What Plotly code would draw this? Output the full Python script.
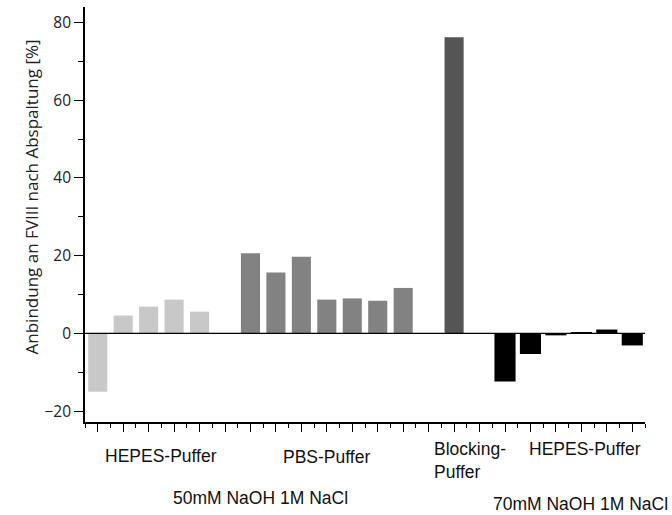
import plotly.graph_objects as go

# Binding to FVIII after cleavage [%], per buffer group
hepes_50 = [-15.0, 4.6, 6.9, 8.7, 5.6]
pbs_50 = [20.6, 15.7, 19.7, 8.7, 9.0, 8.4, 11.7]
blocking = [76.2]
hepes_70 = [-12.4, -5.3, -0.5, 0.3, 1.0, -3.1]

group_labels = ["HEPES-Puffer", "PBS-Puffer", "Blocking-<br>Puffer", "HEPES-Puffer"]
condition_labels = ["50mM NaOH 1M NaCl", "70mM NaOH 1M NaCl"]
y_title = "Anbindung an FVIII nach Abspaltung [%]"

# first slot of each group on the shared x axis (one empty slot between groups)
group_start = [0, 6, 14, 16]
groups = [hepes_50, pbs_50, blocking, hepes_70]
colors = ["#c8c8c8", "#828282", "#555555", "#000000"]
widths = [0.75, 0.75, 0.75, 0.83]

fig = go.Figure()
for start, vals, col, w in zip(group_start, groups, colors, widths):
    fig.add_trace(go.Bar(
        x=[start + i for i in range(len(vals))],
        y=vals,
        width=w,
        marker=dict(color=col, line=dict(width=0)),
        showlegend=False,
    ))

n_slots = group_start[-1] + len(hepes_70)

fig.update_layout(
    width=672, height=515,
    margin=dict(l=85, r=27, t=7, b=93),
    plot_bgcolor="white", paper_bgcolor="white",
    font=dict(family="Open Sans", color="#222222"),
)

fig.update_xaxes(
    range=[-0.5, n_slots - 0.5],
    showline=True, linecolor="black", linewidth=1.6,
    tickmode="array", tickvals=list(range(n_slots)), ticktext=[""] * n_slots,
    ticks="outside", ticklen=8, tickwidth=1.4, tickcolor="black",
    minor=dict(ticks="outside", ticklen=4, tickwidth=1.4, tickcolor="black",
               tick0=-0.5, dtick=1),
    showgrid=False, zeroline=False,
)

fig.update_yaxes(
    range=[-22.8, 84],
    showline=True, linecolor="black", linewidth=1.6,
    tickmode="linear", tick0=0, dtick=20,
    ticks="outside", ticklen=9, tickwidth=1.4, tickcolor="black",
    minor=dict(ticks="outside", ticklen=5, tickwidth=1.4, tickcolor="black",
               tick0=0, dtick=10),
    tickfont=dict(family="Open Sans", size=15.5, color="#222222"),
    showgrid=False, zeroline=False,
)

# baseline at zero across the plot
fig.add_shape(type="line", xref="paper", yref="y", x0=0, x1=1, y0=0, y1=0,
              line=dict(color="black", width=1.4), layer="above")

# rotated y title
fig.add_annotation(text=y_title, xref="paper", yref="paper", x=-0.095, y=0.543,
                   xanchor="center", yanchor="middle", textangle=-90, showarrow=False,
                   font=dict(family="Open Sans", size=17, color="#222222"))

lab_font = dict(family="Liberation Sans", size=17.5, color="#111111")
# group labels below the axis (x in slot units, y in paper units)
fig.add_annotation(text=group_labels[0], x=2.5, y=-0.083, xref="x", yref="paper",
                   xanchor="center", yanchor="middle", showarrow=False, font=lab_font)
fig.add_annotation(text=group_labels[1], x=9.0, y=-0.085, xref="x", yref="paper",
                   xanchor="center", yanchor="middle", showarrow=False, font=lab_font)
fig.add_annotation(text=group_labels[2], x=13.13, y=-0.093, xref="x", yref="paper",
                   xanchor="left", yanchor="middle", align="left", showarrow=False, font=lab_font)
fig.add_annotation(text=group_labels[3], x=19.13, y=-0.066, xref="x", yref="paper",
                   xanchor="center", yanchor="middle", showarrow=False, font=lab_font)
fig.add_annotation(text=condition_labels[0], x=6.41, y=-0.182, xref="x", yref="paper",
                   xanchor="center", yanchor="middle", showarrow=False, font=lab_font)
fig.add_annotation(text=condition_labels[1], x=18.95, y=-0.198, xref="x", yref="paper",
                   xanchor="center", yanchor="middle", showarrow=False, font=lab_font)

fig.write_html("out.html")
